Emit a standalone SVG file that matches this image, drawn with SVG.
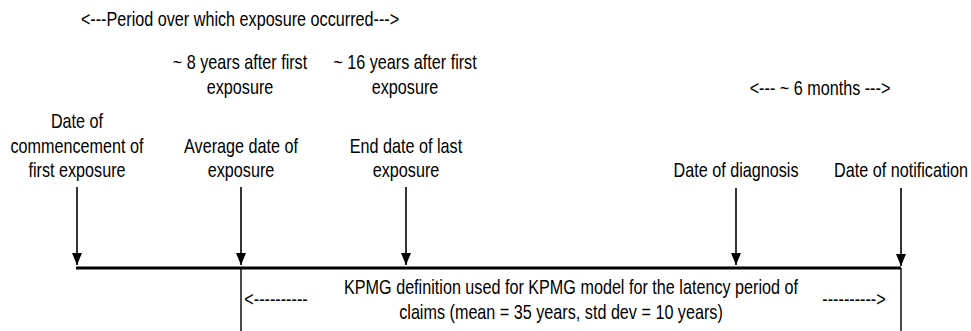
<svg xmlns="http://www.w3.org/2000/svg" width="971" height="331" viewBox="0 0 971 331">
<defs>
<marker id="ah" viewBox="0 0 12 10" refX="12" refY="5" markerWidth="12" markerHeight="10" markerUnits="userSpaceOnUse" orient="auto">
<path d="M0,0 L12,5 L0,10 Z" fill="#000"/>
</marker>
</defs>
<style>
text{font-family:"Liberation Sans",Arial,sans-serif;font-size:19.5px;fill:#000;text-anchor:middle}
.arrow{stroke:#000;stroke-width:1.6;fill:none}
.main{stroke:#000;stroke-width:3;fill:none}
.thin{stroke:#000;stroke-width:1.4;fill:none}
</style>
<rect width="971" height="331" fill="#fff"/>
<g id="connectors">
<line class="main" x1="76" y1="268" x2="901" y2="268"/>
<line class="arrow" x1="77" y1="187" x2="77" y2="265" marker-end="url(#ah)"/>
<line class="arrow" x1="241" y1="187" x2="241" y2="265" marker-end="url(#ah)"/>
<line class="arrow" x1="406" y1="187" x2="406" y2="265" marker-end="url(#ah)"/>
<line class="arrow" x1="736" y1="188" x2="736" y2="265" marker-end="url(#ah)"/>
<line class="arrow" x1="901" y1="188" x2="901" y2="266" marker-end="url(#ah)"/>
<line class="thin" x1="241" y1="268" x2="241" y2="331"/>
<line class="thin" x1="901" y1="268" x2="901" y2="331"/>
</g>
<g id="title"><text transform="translate(240,26) scale(0.83,1)">&lt;---Period over which exposure occurred---&gt;</text></g>
<g id="eight-years"><text transform="translate(240,69) scale(0.83,1)">~ 8 years after first</text><text transform="translate(240,94) scale(0.83,1)">exposure</text></g>
<g id="sixteen-years"><text transform="translate(405,69) scale(0.83,1)">~ 16 years after first</text><text transform="translate(405,94) scale(0.83,1)">exposure</text></g>
<g id="six-months"><text transform="translate(820,95) scale(0.83,1)">&lt;--- ~ 6 months ---&gt;</text></g>
<g id="commencement"><text transform="translate(77,128) scale(0.83,1)">Date of</text><text transform="translate(77,153) scale(0.83,1)">commencement of</text><text transform="translate(77,177) scale(0.83,1)">first exposure</text></g>
<g id="average"><text transform="translate(241,153) scale(0.83,1)">Average date of</text><text transform="translate(241,177) scale(0.83,1)">exposure</text></g>
<g id="end-date"><text transform="translate(406,153) scale(0.83,1)">End date of last</text><text transform="translate(406,177) scale(0.83,1)">exposure</text></g>
<g id="diagnosis"><text transform="translate(736,177) scale(0.83,1)">Date of diagnosis</text></g>
<g id="notification"><text transform="translate(901,177) scale(0.83,1)">Date of notification</text></g>
<g id="latency">
<text transform="translate(571,294) scale(0.83,1)">KPMG definition used for KPMG model for the latency period of</text>
<text transform="translate(561,319) scale(0.83,1)">claims (mean = 35 years, std dev = 10 years)</text>
<text transform="translate(276,306) scale(0.83,1)">&lt;----------</text>
<text transform="translate(854,306) scale(0.83,1)">----------&gt;</text>
</g>
</svg>
